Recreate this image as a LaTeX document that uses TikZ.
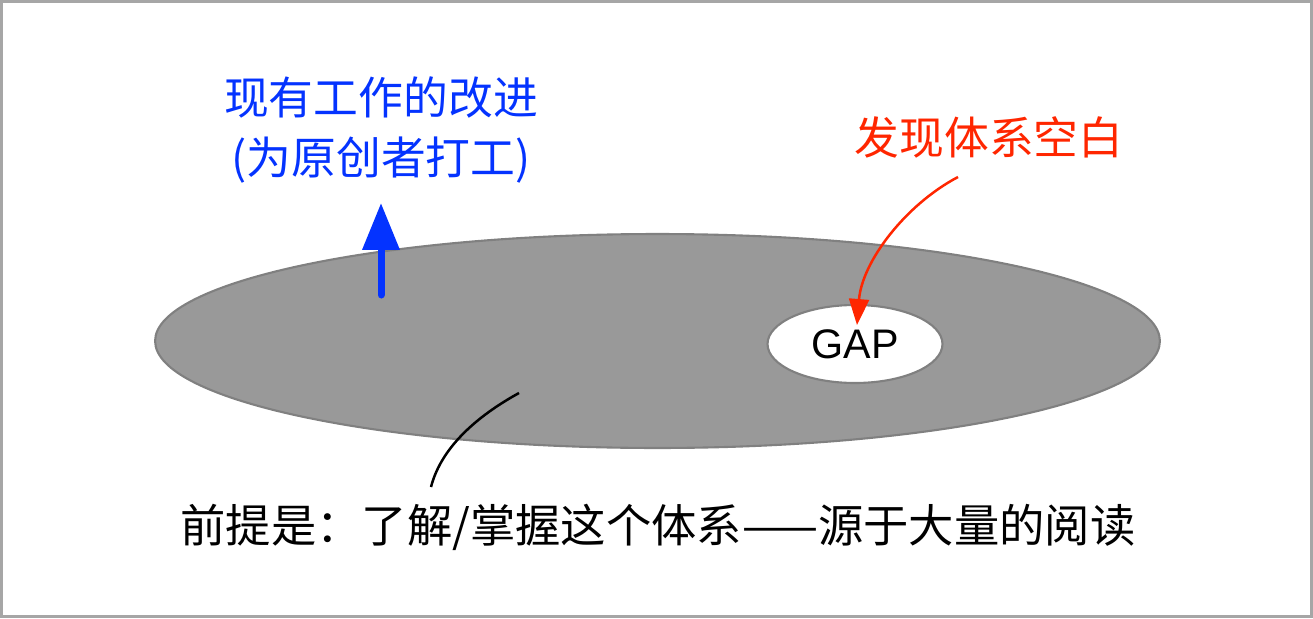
\documentclass[tikz,border=0pt]{standalone}
\usepackage{fontspec}
\setmainfont{Liberation Sans}
\newfontfamily\cjk{Noto Sans CJK SC}
\usetikzlibrary{arrows.meta, shapes.geometric}
\definecolor{keyblue}{HTML}{0433FF}
\definecolor{keyred}{HTML}{FF2600}
\definecolor{bodygray}{HTML}{999999}

\begin{document}
\begin{tikzpicture}[
    x=0.02cm, y=-0.02cm,
    label/.style={font=\cjk\fontsize{25.5}{34}\selectfont, align=center, inner sep=0pt},
    region/.style={ellipse, draw=black!50, line width=1.2pt, inner sep=0pt},
]
\useasboundingbox (0,0) rectangle (1313,619);
\draw[black!35, line width=1.2pt] (1.5,1.5) rectangle (1311.5,616.5);
% the body of knowledge and the gap in it
\node[region, fill=bodygray, minimum width=20.1cm, minimum height=4.28cm] (body) at (657.5,341) {};
\node[region, fill=white, minimum width=3.5cm, minimum height=1.56cm,
      font=\fontsize{23.5}{27}\selectfont] (gap) at (855,344) {GAP};
% texts
\node[label, text=keyblue] (improve) at (381,130) {现有工作的改进\\(为原创者打工)};
\node[label, text=keyred] (find) at (989,137) {发现体系空白};
\node[label, font=\cjk\fontsize{25.8}{34}\selectfont] (premise) at (658,527) {前提是：了解/掌握这个体系——源于大量的阅读};
% arrows
\coordinate (up0) at (381,295);
\coordinate (up1) at (381,203);
\draw[keyblue, line width=0.14cm, line cap=round, -{Triangle[length=0.94cm, width=0.72cm]}] (up0) -- (up1);
\coordinate (findstart) at (958,177);
\coordinate (gaptip) at (857,325);
\draw[keyred, line width=0.05cm, -{Triangle[length=0.52cm, width=0.4cm]}]
   (findstart) .. controls (905,205) and (862,262) .. (gaptip);
\coordinate (inbody) at (519,393);
\coordinate (premisetop) at (431,487);
\draw[line width=0.05cm] (inbody) .. controls (470,420) and (440,452) .. (premisetop);
\end{tikzpicture}
\end{document}
